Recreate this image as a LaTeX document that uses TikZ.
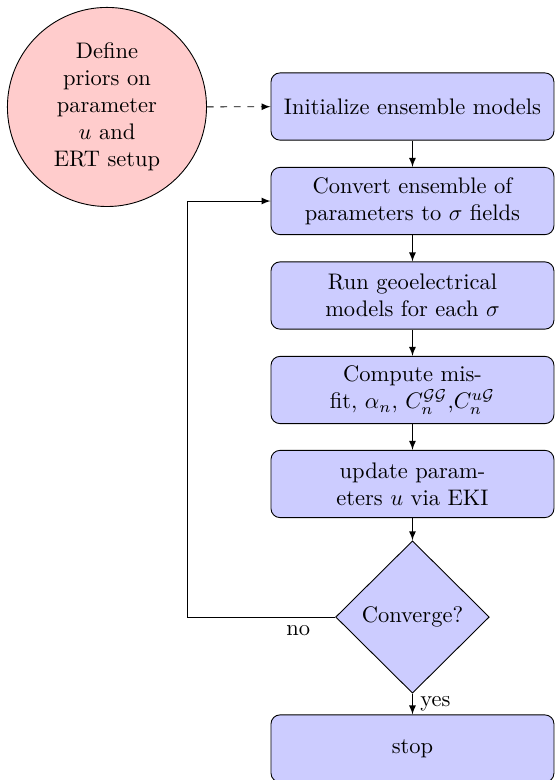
\documentclass[tikz,border=0pt]{standalone}
\usepackage{amsmath, amssymb}
\usepackage{tikz}
\usetikzlibrary{shapes.geometric, arrows}

\begin{document}
\begin{tikzpicture}[>=latex,
    block/.style={rectangle, draw, fill=blue!20, rounded corners, align=center,
                  minimum width=4.42cm, minimum height=1.05cm, inner sep=2pt},
    decision/.style={diamond, draw, fill=blue!20, align=center,
                     minimum width=2.4cm, minimum height=2.38cm, inner sep=0pt},
    cloud/.style={circle, draw, fill=red!20, align=center, minimum size=3.11cm, inner sep=0pt},
    line/.style={draw, ->}]
            \useasboundingbox (0,0) rectangle (8.669,-12.184);

            % priors
            \node[cloud] (init) at (1.671, -1.671) {Define\\priors on\\parameter\\$u$ and\\ERT setup};

            % main column
            \node[block] (initens) at (6.443, -1.664) {Initialize ensemble models};
            \node[block] (convert) at (6.443, -3.140) {Convert ensemble of\\parameters to $\sigma$ fields};
            \node[block] (run) at (6.443, -4.616) {Run geoelectrical\\models for each $\sigma$};
            \node[block] (misfit) at (6.443, -6.092) {Compute mis-\\fit, $\alpha_n$, $C_n^{\mathcal{G}\mathcal{G}}$,$C_n^{u\mathcal{G}}$};
            \node[block] (update) at (6.443, -7.560) {update param-\\eters $u$ via EKI};
            \node[decision] (decide) at (6.443, -9.638) {Converge?};
            \node[block] (stop) at (6.443, -11.692) {stop};

            % loop back
            \coordinate (back) at (2.921, -9.638);

            % edges
            \draw[line, dashed] (init) -- (initens);
            \draw[line] (initens) -- (convert);
            \draw[line] (convert) -- (run);
            \draw[line] (run) -- (misfit);
            \draw[line] (misfit) -- (update);
            \draw[line] (update) -- (decide);
            \draw[line] (decide) -- node[right] {yes} (stop);
            \draw[line] (decide) -- node[near start, below] {no} (back) |- (convert);
        \end{tikzpicture}
\end{document}
